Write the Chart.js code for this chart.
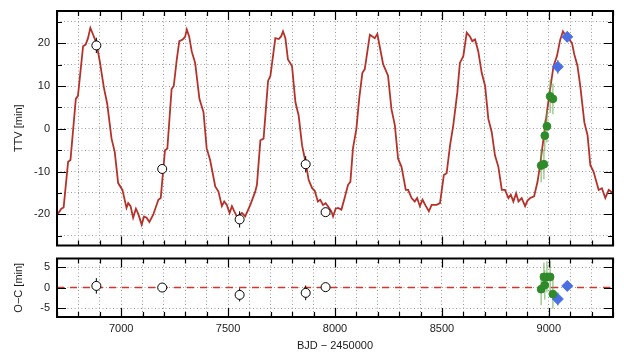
<!DOCTYPE html>
<html>
<head>
<meta charset="utf-8">
<script src="https://cdn.jsdelivr.net/npm/chart.js@4.4.0/dist/chart.umd.min.js"></script>
<style>
    html, body { margin: 0; padding: 0; background: #fff; }
    #wrap { position: relative; width: 624px; height: 359px; }
    #ttvBox { position: absolute; left: 0; top: 0; width: 624px; height: 252px; }
    #ocBox { position: absolute; left: 0; top: 252px; width: 624px; height: 107px; }
</style>
</head>
<body>
<div id="wrap">
    <div id="ttvBox"><canvas id="ttvChart"></canvas></div>
    <div id="ocBox"><canvas id="ocChart"></canvas></div>
</div>
<script>
// 模型曲线 (BJD - 2450000, TTV 分钟)
const modelX = [6700, 6720, 6731, 6752, 6763, 6788, 6798, 6822, 6834, 6845, 6856, 6869, 6884, 6900, 6919, 6935,
    6955, 6970, 6986, 7006, 7025, 7033, 7044, 7056, 7069, 7080, 7096, 7107, 7119, 7132, 7150, 7174, 7185,
    7205, 7216, 7236, 7246, 7260, 7272, 7288, 7299, 7307, 7318, 7330, 7346, 7366, 7385, 7400, 7416, 7440,
    7455, 7471, 7482, 7494, 7507, 7518, 7529, 7541, 7554, 7565, 7580, 7604, 7627, 7635, 7651, 7666, 7687,
    7698, 7721, 7737, 7748, 7757, 7768, 7780, 7799, 7815, 7830, 7846, 7862, 7877, 7893, 7905, 7920, 7931,
    7944, 7956, 7967, 7983, 7991, 8003, 8014, 8030, 8045, 8061, 8072, 8084, 8100, 8113, 8128, 8139, 8163,
    8175, 8186, 8198, 8209, 8225, 8248, 8264, 8280, 8295, 8311, 8331, 8342, 8358, 8373, 8384, 8397, 8409,
    8425, 8439, 8452, 8475, 8491, 8509, 8522, 8538, 8553, 8572, 8584, 8600, 8616, 8631, 8642, 8655, 8670,
    8686, 8702, 8717, 8733, 8748, 8764, 8780, 8795, 8811, 8822, 8834, 8847, 8858, 8873, 8889, 8900, 8913,
    8931, 8947, 8959, 8975, 8991, 9006, 9022, 9038, 9053, 9066, 9081, 9097, 9108, 9119, 9134, 9147, 9166,
    9181, 9194, 9209, 9233, 9248, 9264, 9280, 9291, 9300];
const modelY = [-20.2, -18.7, -18.4, -7.7, -7.3, 7.0, 7.7, 19.3, 19.7, 21.2, 23.6, 22.0, 20.1, 15.8, 9.7, 5.8,
    -2.3, -5.4, -12.7, -14.3, -18.5, -17.4, -18.1, -20.8, -18.7, -19.9, -22.4, -20.5, -20.8, -21.8, -20.1, -16.6, -16.2,
    -5.0, -4.6, 9.3, 10.0, 16.2, 20.5, 20.9, 21.5, 23.2, 21.6, 18.1, 15.4, 7.0, 3.9, -4.6, -7.3, -13.5,
    -14.7, -18.1, -17.0, -17.8, -19.7, -18.1, -19.3, -20.5, -20.1, -19.7, -20.5, -17.8, -14.7, -13.1, -2.7, -2.3, 11.2,
    12.4, 21.2, 21.0, 21.6, 22.8, 21.2, 16.2, 14.7, 6.2, 3.1, -3.9, -7.7, -12.0, -13.9, -14.5, -17.0, -16.6,
    -17.8, -17.4, -18.1, -19.3, -20.5, -18.7, -18.5, -18.9, -16.2, -13.1, -12.4, -4.6, 0.0, 7.0, 13.1, 13.9, 22.0,
    21.6, 21.2, 22.2, 19.3, 15.1, 12.4, 4.6, 0.8, -7.0, -8.9, -14.3, -14.3, -16.2, -17.0, -16.2, -18.1, -16.6,
    -18.1, -19.3, -17.8, -17.8, -17.4, -10.8, -10.4, -3.9, 0.8, 8.5, 15.4, 17.0, 22.5, 21.6, 20.5, 20.9, 18.1,
    13.1, 10.0, 2.3, -0.8, -6.2, -8.9, -14.3, -14.3, -16.2, -15.4, -17.0, -15.1, -17.0, -16.2, -18.1, -16.8, -16.2,
    -15.8, -12.4, -8.5, -2.3, 3.9, 9.3, 14.7, 17.0, 20.8, 22.8, 21.6, 20.8, 20.1, 17.4, 14.7, 10.0, 1.5,
    -1.5, -8.5, -10.0, -14.3, -13.9, -16.2, -14.3, -14.7, -15.4];

// 地面观测 (空心圆)
const groundX = [6884, 7192, 7554, 7863, 7956];
const groundTTV = [19.5, -9.4, -21.2, -8.3, -19.5];
const groundTTVErr = [1.8, 0.8, 1.9, 1.9, 0.6];
const groundOC = [0.4, 0.0, -1.8, -1.3, 0.1];
const groundOCErr = [1.9, 0.8, 1.6, 1.8, 0.6];

// 绿色点
const greenX = [8964, 8977, 8981, 8991, 9006, 9019];
const greenTTV = [-8.6, -8.3, -1.6, 0.6, 7.6, 7.0];
const greenErr = [3.9, 3.5, 3.6, 3.8, 3.9, 3.6];
const greenOC = [-0.4, 2.6, 0.6, 2.6, 2.6, -1.6];

// 蓝色菱形
const blueX = [9042, 9086];
const blueTTV = [14.5, 21.5];
const blueErr = [1.6, 1.2];
const blueOC = [-2.8, 0.4];

// 刻度
const xMajorTicks = [7000, 7500, 8000, 8500, 9000];
const ttvTickLabels = [-20, -10, 0, 10, 20];
const ocTickLabels = [-5, 0, 5];

const X_MIN = 6700, X_MAX = 9300;
const xMinorTicks = [];
for (let v = X_MIN; v <= X_MAX; v += 100) xMinorTicks.push(v);
const ttvMinorTicks = [];
for (let v = -25; v <= 25; v += 5) ttvMinorTicks.push(v);

const RED = '#b5322a';
const GREEN = '#2f8a2a';
const BLUE = '#4a6fe3';
const GRID = '#9c9c9c';

Chart.defaults.font.family = '"Liberation Sans", Arial, Helvetica, sans-serif';
Chart.defaults.font.size = 11;
Chart.defaults.color = '#1a1a1a';

const pts = (xs, ys) => xs.map((x, i) => ({ x, y: ys[i] }));

// 固定坐标轴尺寸, 去掉标签溢出留白
function fixSize(s, w, h) {
    if (w !== null) s.width = w;
    if (h !== null) s.height = h;
    s.paddingTop = 0;
    s.paddingBottom = 0;
    s.paddingLeft = 0;
    s.paddingRight = 0;
}

// 边框 + 内向刻度线
function framePlugin(yMinor, yMajor) {
    return {
        id: 'frameTicks',
        afterDraw(chart) {
            const { ctx, chartArea: a, scales: { x, y } } = chart;
            ctx.save();
            ctx.strokeStyle = '#000';
            ctx.lineWidth = 1.2;
            ctx.beginPath();
            xMinorTicks.forEach(v => {
                const px = Math.round(x.getPixelForValue(v)) + 0.5;
                const len = xMajorTicks.includes(v) ? 9 : 5;
                ctx.moveTo(px, a.bottom); ctx.lineTo(px, a.bottom - len);
                ctx.moveTo(px, a.top); ctx.lineTo(px, a.top + len);
            });
            yMinor.forEach(v => {
                const py = Math.round(y.getPixelForValue(v)) + 0.5;
                const len = yMajor.includes(v) ? 9 : 5;
                ctx.moveTo(a.left, py); ctx.lineTo(a.left + len, py);
                ctx.moveTo(a.right, py); ctx.lineTo(a.right - len, py);
            });
            ctx.stroke();
            ctx.lineWidth = 2;
            ctx.strokeRect(a.left, a.top, a.right - a.left, a.bottom - a.top);
            ctx.restore();
        }
    };
}

// 误差棒, 画在模型线之后, 标记之前
function errorPlugin(sets) {
    return {
        id: 'errorBars',
        afterDatasetDraw(chart, args) {
            if (args.index !== chart.data.datasets.length - 1) return;
            const { ctx, scales: { x, y } } = chart;
            ctx.save();
            sets.forEach(s => {
                ctx.strokeStyle = s.color;
                ctx.lineWidth = s.width;
                ctx.beginPath();
                s.xs.forEach((xv, i) => {
                    const px = x.getPixelForValue(xv);
                    ctx.moveTo(px, y.getPixelForValue(s.ys[i] - s.errs[i]));
                    ctx.lineTo(px, y.getPixelForValue(s.ys[i] + s.errs[i]));
                });
                ctx.stroke();
            });
            ctx.restore();
        }
    };
}

function xScale(showLabels) {
    return {
        type: 'linear',
        min: X_MIN,
        max: X_MAX,
        afterBuildTicks: s => { s.ticks = xMinorTicks.map(v => ({ value: v })); },
        afterFit: s => fixSize(s, null, showLabels ? 42 : 4),
        ticks: {
            display: showLabels,
            autoSkip: false,
            maxRotation: 0,
            padding: 5,
            callback: v => xMajorTicks.includes(v) ? String(v) : ''
        },
        grid: { color: GRID, lineWidth: 1, drawTicks: false },
        border: { display: false, dash: [1, 2.5] },
        title: {
            display: showLabels,
            text: 'BJD \u2212 2450000',
            padding: { top: 0, bottom: 6 }
        }
    };
}

function markerSets(gY, grY, bY) {
    return [
        {
            data: pts(groundX, gY),
            pointStyle: 'circle', pointRadius: 4.5,
            backgroundColor: '#fff', borderColor: '#000', borderWidth: 1
        },
        {
            data: pts(greenX, grY),
            pointStyle: 'circle', pointRadius: 3.9,
            backgroundColor: GREEN, borderColor: GREEN, borderWidth: 1
        },
        {
            data: pts(blueX, bY),
            pointStyle: 'rectRot', pointRadius: 5.5,
            backgroundColor: BLUE, borderColor: BLUE, borderWidth: 1
        }
    ];
}

const commonOpts = {
    responsive: true,
    maintainAspectRatio: false,
    animation: false,
    events: [],
    plugins: { legend: { display: false }, tooltip: { enabled: false } }
};

// 上图: TTV
new Chart(document.getElementById('ttvChart'), {
    type: 'scatter',
    data: {
        datasets: [
            ...markerSets(groundTTV, greenTTV, blueTTV),
            {
                type: 'line',
                data: pts(modelX, modelY),
                showLine: true,
                borderColor: RED,
                borderWidth: 1.8,
                pointRadius: 0,
                tension: 0
            }
        ]
    },
    options: {
        ...commonOpts,
        layout: { padding: { left: 0, right: 11, top: 11, bottom: 0 } },
        scales: {
            x: xScale(false),
            y: {
                min: -27.3,
                max: 27.55,
                afterBuildTicks: s => { s.ticks = ttvMinorTicks.map(v => ({ value: v })); },
                afterFit: s => fixSize(s, 57, null),
                ticks: {
                    padding: 7,
                    autoSkip: false,
                    callback: v => ttvTickLabels.includes(v) ? String(v) : ''
                },
                grid: { color: GRID, lineWidth: 1, drawTicks: false },
                border: { display: false, dash: [1, 2.5] },
                title: { display: true, text: 'TTV [min]', padding: { top: 12, bottom: 0 } }
            }
        }
    },
    plugins: [
        errorPlugin([
            { xs: groundX, ys: groundTTV, errs: groundTTVErr, color: '#000', width: 1 },
            { xs: greenX, ys: greenTTV, errs: greenErr, color: 'rgba(95,170,75,0.75)', width: 1.2 },
            { xs: blueX, ys: blueTTV, errs: blueErr, color: BLUE, width: 1.2 }
        ]),
        framePlugin(ttvMinorTicks, ttvTickLabels)
    ]
});

// 下图: O-C
new Chart(document.getElementById('ocChart'), {
    type: 'scatter',
    data: {
        datasets: [
            ...markerSets(groundOC, greenOC, blueOC),
            {
                type: 'line',
                data: [{ x: X_MIN, y: 0 }, { x: X_MAX, y: 0 }],
                showLine: true,
                borderColor: '#d8342b',
                borderWidth: 1.5,
                borderDash: [7, 6],
                pointRadius: 0
            }
        ]
    },
    options: {
        ...commonOpts,
        layout: { padding: { left: 0, right: 11, top: 4, bottom: 0 } },
        scales: {
            x: xScale(true),
            y: {
                min: -7.2,
                max: 7.1,
                afterBuildTicks: s => { s.ticks = ocTickLabels.map(v => ({ value: v })); },
                afterFit: s => fixSize(s, 57, null),
                ticks: {
                    padding: 7,
                    autoSkip: false,
                    callback: v => String(v)
                },
                grid: { color: GRID, lineWidth: 1, drawTicks: false },
                border: { display: false, dash: [1, 2.5] },
                title: { display: true, text: 'O\u2212C [min]', padding: { top: 12, bottom: 0 } }
            }
        }
    },
    plugins: [
        errorPlugin([
            { xs: groundX, ys: groundOC, errs: groundOCErr, color: '#000', width: 1 },
            { xs: greenX, ys: greenOC, errs: greenErr, color: 'rgba(95,170,75,0.75)', width: 1.2 },
            { xs: blueX, ys: blueOC, errs: blueErr, color: BLUE, width: 1.2 }
        ]),
        framePlugin(ocTickLabels, ocTickLabels)
    ]
});
</script>
</body>
</html>
